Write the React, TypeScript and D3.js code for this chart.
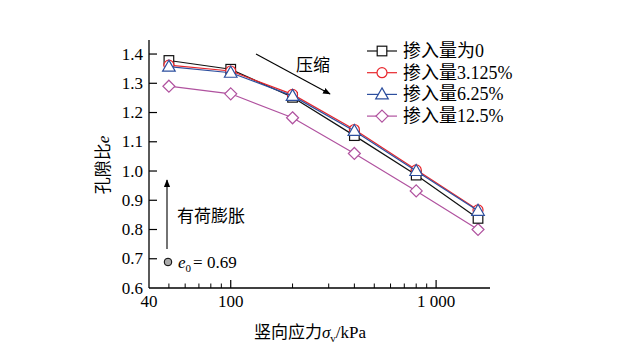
import React from 'react';
import * as d3 from 'd3';

// vertical stress (kPa) and void ratio for each content
const stress = [50, 100, 200, 400, 800, 1600];
const seriesNames = ['掺入量为0', '掺入量3.125%', '掺入量6.25%', '掺入量12.5%'];
const e0Pct = [1.378, 1.348, 1.252, 1.121, 0.986, 0.838];
const e3Pct = [1.362, 1.342, 1.262, 1.142, 1.004, 0.867];
const e6Pct = [1.357, 1.336, 1.257, 1.137, 1.0, 0.864];
const e12Pct = [1.29, 1.264, 1.182, 1.06, 0.932, 0.8];
const yTicks = [0.6, 0.7, 0.8, 0.9, 1.0, 1.1, 1.2, 1.3, 1.4];
const xMajor = [40, 100, 1000];
const xMinor = [50, 60, 70, 80, 90, 200, 300, 400, 500, 600, 700, 800, 900];

const colors = ['#111111', '#e8262c', '#2d4f9e', '#b0529f'];
const shapes = ['square', 'circle', 'triangle', 'diamond'];

// latin glyphs from Liberation Serif, Chinese falls back to Noto CJK
const MIXED = { fontFamily: "'Liberation Serif', 'Noto Sans CJK SC', serif" };
const FS = 17;

const Marker = ({ shape, x, y, color }: { shape: string; x: number; y: number; color: string }) => {
    const common = { fill: 'white', stroke: color, strokeWidth: 1.2 };
    if (shape === 'square') return <rect x={x - 4.8} y={y - 4.8} width={9.6} height={9.6} {...common} />;
    if (shape === 'circle') return <circle cx={x} cy={y} r={5} {...common} />;
    if (shape === 'triangle') return <path d={`M${x},${y - 6.5}L${x + 6.3},${y + 4.5}L${x - 6.3},${y + 4.5}Z`} {...common} />;
    return <path d={`M${x},${y - 6}L${x + 6},${y}L${x},${y + 6}L${x - 6},${y}Z`} {...common} />;
};

const App = () => {
    const width = 641;
    const height = 351;
    const left = 149;
    const right = 490;
    const top = 40;
    const bottom = 288;

    const x = d3.scaleLog().domain([40, 1830]).range([left, right]);
    const y = d3.scaleLinear().domain([0.6, 1.448]).range([bottom, top]);

    const allSeries = [e0Pct, e3Pct, e6Pct, e12Pct];
    const line = d3.line<number>()
        .x((_, i) => x(stress[i]))
        .y(d => y(d));

    const drawOrder = [3, 0, 1, 2];

    return (
        <svg width={width} height={height} style={{ display: 'block', position: 'absolute', left: 0, top: 0 }}>
            <rect width={width} height={height} fill="white" />
            {/* axes */}
            <line x1={left} x2={left} y1={top} y2={bottom} stroke="black" strokeWidth={1.3} />
            <line x1={left} x2={right} y1={bottom} y2={bottom} stroke="black" strokeWidth={1.3} />
            {yTicks.map(t => (
                <g key={t}>
                    {t > 0.6 && <line x1={left} x2={left + 8} y1={y(t)} y2={y(t)} stroke="black" strokeWidth={1.2} />}
                    <text x={left - 6} y={y(t) + 5.5} textAnchor="end" style={MIXED} fontSize={FS}>{t.toFixed(1)}</text>
                </g>
            ))}
            {xMajor.map(t => (
                <g key={t}>
                    {t > 40 && <line x1={x(t)} x2={x(t)} y1={bottom} y2={bottom - 8} stroke="black" strokeWidth={1.2} />}
                    <text x={x(t)} y={bottom + 19} textAnchor="middle" style={MIXED} fontSize={FS}>{t === 1000 ? '1 000' : t}</text>
                </g>
            ))}
            {xMinor.map(t => (
                <line key={t} x1={x(t)} x2={x(t)} y1={bottom} y2={bottom - 4.5} stroke="black" strokeWidth={1} />
            ))}
            {/* axis titles */}
            <text transform={`translate(109,165) rotate(-90)`} textAnchor="middle" fontSize={FS} style={MIXED}>
                孔隙比<tspan fontStyle="italic">e</tspan>
            </text>
            <text x={310} y={338} textAnchor="middle" fontSize={FS} style={MIXED}>
                竖向应力<tspan fontStyle="italic">σ</tspan><tspan fontSize={11} dy={4}>v</tspan><tspan dy={-4}>/kPa</tspan>
            </text>
            {/* series */}
            {drawOrder.map(si => (
                <g key={si}>
                    <path d={line(allSeries[si]) || ''} fill="none" stroke={colors[si]} strokeWidth={1.2} />
                    {allSeries[si].map((v, i) => (
                        <Marker key={i} shape={shapes[si]} x={x(stress[i])} y={y(v)} color={colors[si]} />
                    ))}
                </g>
            ))}
            {/* compression arrow */}
            <defs>
                <marker id="arrow" viewBox="0 0 10 10" refX={9} refY={5} markerWidth={7} markerHeight={7} orient="auto">
                    <path d="M0,1L10,5L0,9Z" fill="black" />
                </marker>
            </defs>
            <line x1={256} y1={54} x2={330} y2={94} stroke="black" strokeWidth={1.1} markerEnd="url(#arrow)" />
            <text x={296} y={71} style={MIXED} fontSize={FS}>压缩</text>
            <line x1={167} y1={249} x2={167} y2={180} stroke="black" strokeWidth={1.1} markerEnd="url(#arrow)" />
            <text x={177} y={222} style={MIXED} fontSize={FS}>有荷膨胀</text>
            <circle cx={168} cy={262} r={3.8} fill="#aaaaaa" stroke="black" strokeWidth={1} />
            <text x={178} y={268} style={MIXED} fontSize={FS}>
                <tspan fontStyle="italic">e</tspan><tspan fontSize={11} dy={4}>0</tspan><tspan dy={-4} dx={2}>= 0.69</tspan>
            </text>
            {/* legend */}
            {seriesNames.map((name, i) => {
                const ly = 51 + i * 21.7;
                return (
                    <g key={name}>
                        <line x1={367} x2={397} y1={ly} y2={ly} stroke={colors[i]} strokeWidth={1.2} />
                        <Marker shape={shapes[i]} x={382} y={ly} color={colors[i]} />
                        <text x={403} y={ly + 6} fontSize={18} style={MIXED}>{name}</text>
                    </g>
                );
            })}
        </svg>
    );
};

export default App;
